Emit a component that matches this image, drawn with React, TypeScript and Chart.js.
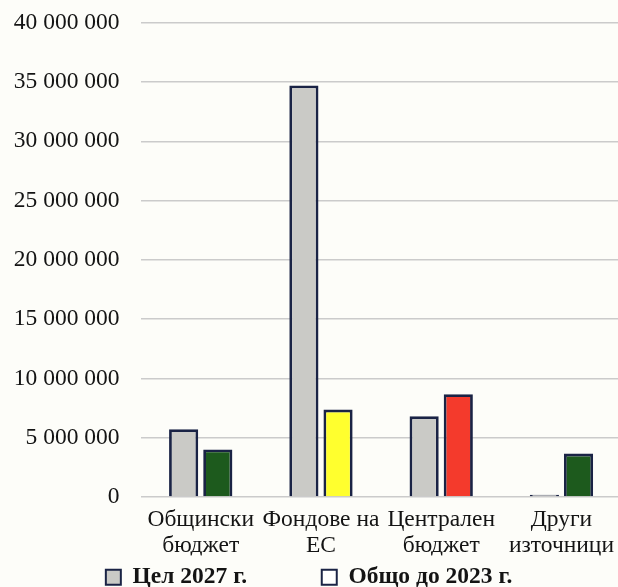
import React, { useEffect, useRef } from "react";
import { Chart, registerables } from "chart.js";

Chart.register(...registerables);

const categories: string[][] = [
  ["Общински", "бюджет"],
  ["Фондове на", "ЕС"],
  ["Централен", "бюджет"],
  ["Други", "източници"],
];
const seriesNames = ["Цел 2027 г.", "Общо до 2023 г."];
const target2027 = [5710000, 34710000, 6800000, 200000];
const total2023 = [4000000, 7370000, 8660000, 3660000];
const total2023Colors = ["#1d5a1d", "#ffff2e", "#f43a2c", "#1d5a1d"];
const targetColor = "#cacac6";
const legendFills = [targetColor, "#ffffff"];
const yMax = 40000000;
const yStep = 5000000;

const FONT = '"Liberation Serif", "Times New Roman", serif';
const BORDER = "#1a2345";
const TEXT = "#141414";

function fmt(v: number): string {
  return String(v).replace(/\B(?=(\d{3})+(?!\d))/g, " ");
}

export default function App() {
  const ref = useRef<HTMLCanvasElement | null>(null);

  useEffect(() => {
    document.body.style.margin = "0";
    document.body.style.overflow = "hidden";
    const canvas = ref.current;
    if (!canvas) return;
    const chart = new Chart(canvas, {
      type: "bar",
      data: {
        labels: categories,
        datasets: [
          {
            label: seriesNames[0],
            data: target2027,
            backgroundColor: targetColor,
            borderColor: BORDER,
            borderWidth: 2.8,
            categoryPercentage: 0.568,
            barPercentage: 0.854,
          },
          {
            label: seriesNames[1],
            data: total2023,
            backgroundColor: total2023Colors,
            borderColor: BORDER,
            borderWidth: 2.8,
            categoryPercentage: 0.568,
            barPercentage: 0.854,
          },
        ],
      },
      options: {
        animation: false,
        responsive: true,
        maintainAspectRatio: false,
        layout: { padding: { top: 0, left: 0, right: 0, bottom: 0 } },
        plugins: {
          tooltip: { enabled: false },
          legend: {
            position: "bottom",
            labels: {
              font: { family: FONT, size: 23.5, weight: "bold" },
              color: TEXT,
              boxWidth: 15,
              boxHeight: 15,
              padding: 10,
              generateLabels: (ch: any) =>
                ch.data.datasets.map((ds: any, i: number) => ({
                  text: i === 0 ? ds.label + "           " : ds.label + " ",
                  fillStyle: legendFills[i],
                  strokeStyle: BORDER,
                  lineWidth: 2,
                  hidden: false,
                  datasetIndex: i,
                  fontColor: TEXT,
                })),
            },
          },
        },
        scales: {
          x: {
            grid: { display: false, drawTicks: false },
            border: { display: false },
            ticks: {
              font: { family: FONT, size: 23.5, lineHeight: 1.1 },
              color: TEXT,
              padding: 10,
              maxRotation: 0,
              autoSkip: false,
            },
            afterFit: (s: any) => {
              s.height = 58.5;
            },
          },
          y: {
            min: 0,
            max: yMax,
            grid: { color: "#cbcbcb", lineWidth: 1.5, drawTicks: false },
            border: { display: false },
            ticks: {
              stepSize: yStep,
              font: { family: FONT, size: 23.5 },
              color: TEXT,
              padding: 21,
              callback: (v: any) => fmt(Number(v)),
            },
            afterFit: (s: any) => {
              s.width = 140.6;
              s.paddingTop = 22.7;
              s.paddingBottom = 0;
            },
          },
        },
      },
    });
    return () => chart.destroy();
  }, []);

  return (
    <div
      style={{
        position: "fixed",
        left: 0,
        top: 0,
        width: 624,
        height: 599,
        background: "#fdfdf9",
      }}
    >
      <canvas ref={ref} />
    </div>
  );
}
